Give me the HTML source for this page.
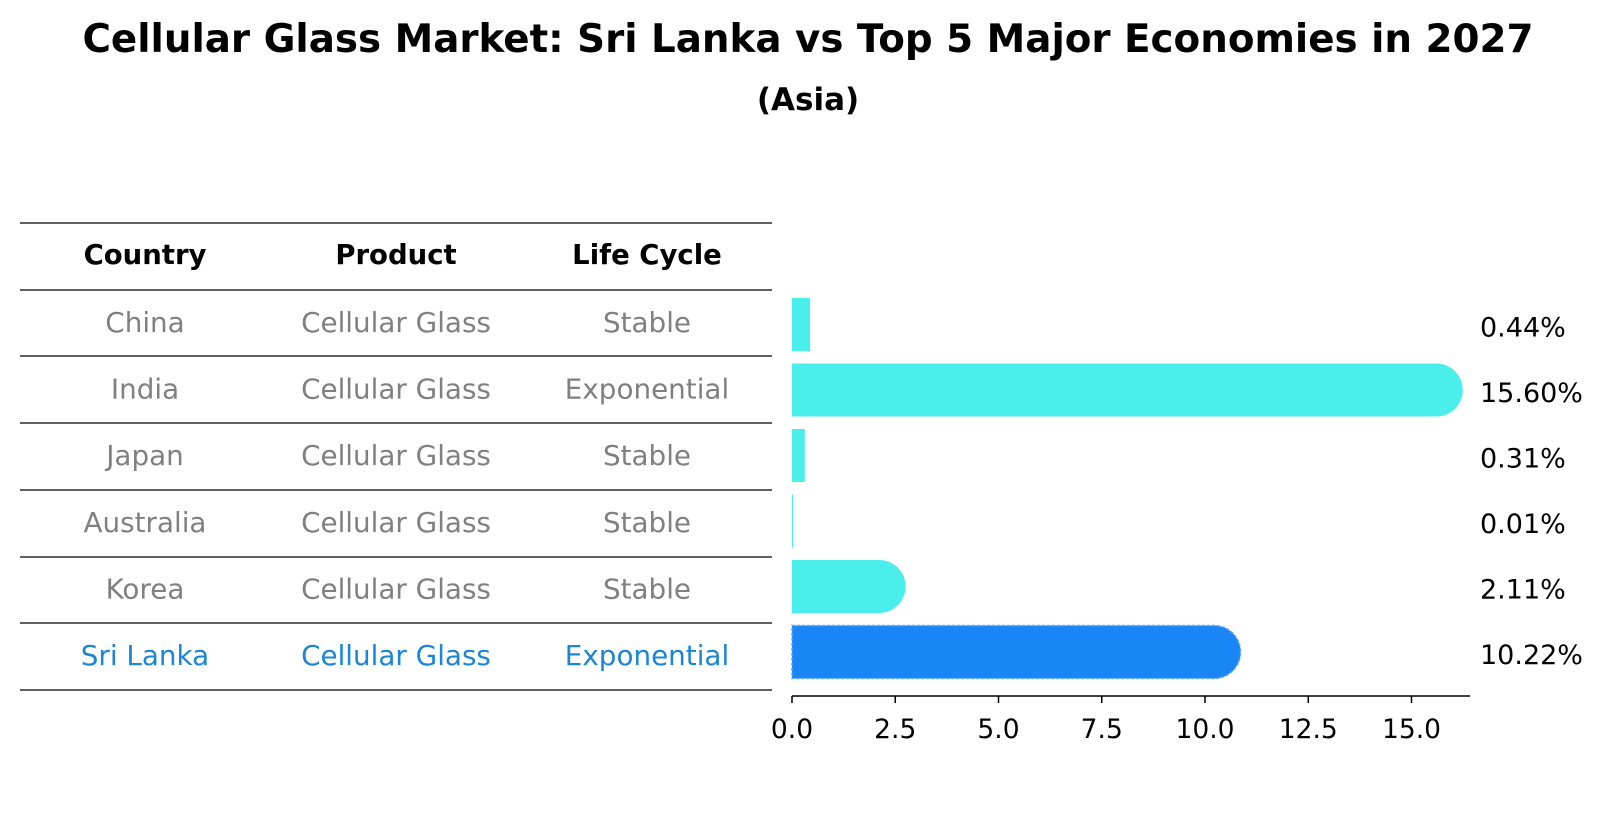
<!DOCTYPE html>
<html><head><meta charset="utf-8"><style>
body{margin:0;background:#fff;font-family:"Liberation Sans","DejaVu Sans",sans-serif;}
svg text{font-family:"DejaVu Sans","Liberation Sans",sans-serif;}
</style></head><body>
<svg id="c" width="1604" height="823" xmlns="http://www.w3.org/2000/svg">
<text x="808" y="52" text-anchor="middle" font-size="38.8" font-weight="bold">Cellular Glass Market: Sri Lanka vs Top 5 Major Economies in 2027</text>
<text x="808" y="110" text-anchor="middle" font-size="31" font-weight="bold">(Asia)</text>
<g id="table"></g>
<g id="bars"></g>
<g id="axis"></g>
</svg>
<script>
const countries=["China","India","Japan","Australia","Korea","Sri Lanka"];
const products=["Cellular Glass","Cellular Glass","Cellular Glass","Cellular Glass","Cellular Glass","Cellular Glass"];
const lifeCycles=["Stable","Exponential","Stable","Stable","Stable","Exponential"];
const values=[0.44,15.60,0.31,0.01,2.11,10.22];
const valueLabels=["0.44%","15.60%","0.31%","0.01%","2.11%","10.22%"];
const ticks=[0,2.5,5,7.5,10,12.5,15];
const tickLabels=["0.0","2.5","5.0","7.5","10.0","12.5","15.0"];
const NS="http://www.w3.org/2000/svg";
const x0=792,pxPer=41.3;
const xs=v=>x0+v*pxPer;
const yc=i=>324.5+i*65.5;
function mk(tag,at,parent,txt){const e=document.createElementNS(NS,tag);for(const k in at)e.setAttribute(k,at[k]);if(txt!==undefined)e.textContent=txt;parent.appendChild(e);return e;}
const tbl=document.getElementById('table');
const lineYs=[223,290,356,423,490,557,623,690];
lineYs.forEach(y=>{const l=mk('line',{x1:20,x2:772,y1:y,y2:y,stroke:'#000','stroke-width':1.2},tbl);

});
const colX=[145,396,647];
["Country","Product","Life Cycle"].forEach((h,j)=>{const t=mk('text',{x:colX[j],y:264,'text-anchor':'middle','font-size':27.5,'font-weight':'bold'},tbl,h);

});
countries.forEach((c,i)=>{const col=i===countries.length-1?'#1a86d9':'#808080';
[c,products[i],lifeCycles[i]].forEach((s,j)=>{const t=mk('text',{x:colX[j],y:332+i*66.6,'text-anchor':'middle','font-size':27.8,fill:col},tbl,s);

});});
const bars=document.getElementById('bars');
const h=53;
values.forEach((v,i)=>{const last=i===values.length-1;const col=last?'#1a86f5':'#4aeeea';
const w=xs(v)-x0;const y=yc(i)-h/2;
let d;
if(w<30){const ww=Math.max(w,1);d=`M${x0},${y}h${ww}v${h}h${-ww}z`;}
else{d=`M${x0},${y}H${xs(v)}A${h/2},${h/2} 0 0 1 ${xs(v)},${y+h}H${x0}z`;}
const p=mk('path',{d:d,fill:col},bars);
if(last){p.setAttribute('stroke','#5aa8ff');p.setAttribute('stroke-dasharray','3,2');p.setAttribute('stroke-width','1.5');}


const t=mk('text',{x:1480,y:yc(i)+12,'font-size':27},bars,valueLabels[i]);

});
const ax=document.getElementById('axis');
const sp=mk('line',{x1:x0,x2:1470,y1:696,y2:696,stroke:'#000','stroke-width':1.5},ax);


ticks.forEach((v,i)=>{const l=mk('line',{x1:xs(v),x2:xs(v),y1:696,y2:703,stroke:'#000','stroke-width':1.5},ax);


const t=mk('text',{x:xs(v),y:738,'text-anchor':'middle','font-size':26.5},ax,tickLabels[i]);

});
</script>
</body></html>
